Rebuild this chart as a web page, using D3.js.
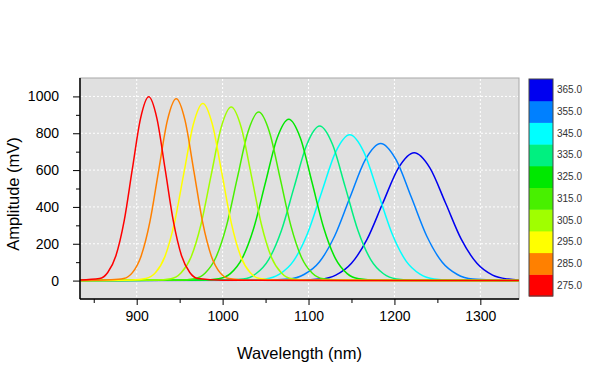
<!DOCTYPE html>
<html><head><meta charset="utf-8">
<script src="https://cdn.jsdelivr.net/npm/d3@7"></script>
<style>
body{margin:0;background:#fff;}
text{font-family:"Liberation Sans",Arial,sans-serif;}
</style></head>
<body><svg id="c" width="600" height="382"></svg>
<script>
// ---- data ----
const legendLabels = ["275.0","285.0","295.0","305.0","315.0","325.0","335.0","345.0","355.0","365.0"];
const seriesColors = ["#ff0000","#ff8000","#ffff00","#a0ff00","#48f000","#00e800","#00f080","#00ffff","#0080ff","#0000f0"];
const xTicks = [900,1000,1100,1200,1300];
const yTicks = [0,200,400,600,800,1000];

const s275 = [[834,3],[856.7,11],[866.3,44],[875.8,135],[885.4,324],[894.9,605],[904.5,881],[914,998],[923.5,881],[933.1,605],[942.6,324],[952.2,135],[961.8,44],[971.3,11],[1000,2],[1345,0]];
const s285 = [[834,0],[870,4],[884.8,11],[895,43],[905.2,134],[915.4,320],[925.6,599],[935.8,871],[946,987],[956.2,871],[966.4,599],[976.6,320],[986.8,134],[997,43],[1007.2,11],[1030,2],[1345,0]];
const s295 = [[834,0],[895,3],[910.7,11],[921.75,42],[932.8,130],[943.85,312],[954.9,583],[965.95,849],[977,962],[988.05,849],[999.1,583],[1010.15,312],[1021.2,130],[1032.25,42],[1043.3,11],[1065,2],[1345,0]];
const s305 = [[834,0],[922,3],[939.8,10],[951.5,41],[963.2,127],[974.9,306],[986.6,571],[998.3,831],[1010,942],[1021.7,831],[1033.4,571],[1045.1,306],[1056.8,127],[1068.5,41],[1080.2,10],[1100,2],[1345,0]];
const s315 = [[834,0],[950,3],[967,10],[979.5,40],[992,124],[1004.5,297],[1017,555],[1029.5,807],[1042,915],[1054.5,807],[1067,555],[1079.5,297],[1092,124],[1104.5,40],[1117,10],[1140,2],[1345,0]];
const s325 = [[834,0],[975,3],[995.4,10],[1009,38],[1022.6,119],[1036.2,284],[1049.8,531],[1063.4,773],[1077,876],[1090.6,773],[1104.2,531],[1117.8,284],[1131.4,119],[1145,38],[1158.6,10],[1180,2],[1345,0]];
const s335 = [[834,0],[1000,3],[1023.9,9],[1038.75,37],[1053.6,114],[1068.45,272],[1083.3,509],[1098.15,740],[1113,839],[1127.85,740],[1142.7,509],[1157.55,272],[1172.4,114],[1187.25,37],[1202.1,9],[1225,2],[1345,0]];
const s345 = [[834,0],[1025,3],[1049.9,9],[1066.25,35],[1082.6,107],[1098.95,257],[1115.3,480],[1131.65,699],[1148,792],[1164.35,699],[1180.7,480],[1197.05,257],[1213.4,107],[1229.75,35],[1246.1,9],[1270,2],[1345,0]];
const s355 = [[834,0],[1050,3],[1076.9,8],[1094.75,33],[1112.6,101],[1130.45,242],[1148.3,452],[1166.15,657],[1184,745],[1201.85,657],[1219.7,452],[1237.55,242],[1255.4,101],[1273.25,33],[1291.1,8],[1315,2],[1345,0]];
const s365 = [[834,0],[1090,3],[1113.5,8],[1131.75,30],[1150,94],[1168.25,225],[1186.5,421],[1204.75,612],[1223,694],[1241.25,612],[1259.5,421],[1277.75,225],[1296,94],[1314.25,30],[1332.5,8],[1345,3]];
const seriesData = [s275,s285,s295,s305,s315,s325,s335,s345,s355,s365];

// ---- layout ----
const svg = d3.select("#c");
const L=80, R=519, T=78, B=299;
const x = d3.scaleLinear().domain([834,1345]).range([L,R]);
const y = d3.scaleLinear().domain([-100,1100]).range([B,T]);

svg.append("rect").attr("x",L).attr("y",T).attr("width",R-L).attr("height",B-T)
  .attr("fill","#e0e0e0").attr("stroke","#a8a8a8").attr("stroke-width",1);

// grid
const g = svg.append("g");
g.selectAll("line.gy").data(yTicks).join("line")
  .attr("x1",L+1).attr("x2",R-1).attr("y1",d=>y(d)).attr("y2",d=>y(d))
  .attr("stroke","#ffffff").attr("stroke-width",1).attr("stroke-dasharray","2,2");
g.selectAll("line.gx").data(xTicks).join("line")
  .attr("y1",T+1).attr("y2",B-1).attr("x1",d=>x(d)).attr("x2",d=>x(d))
  .attr("stroke","#ffffff").attr("stroke-width",1).attr("stroke-dasharray","2,2");

// curves (last listed drawn first so red lies on top)
const line = d3.line().x(d=>x(d[0])).y(d=>y(d[1])).curve(d3.curveMonotoneX);
const clip = svg.append("clipPath").attr("id","pc").append("rect")
  .attr("x",L).attr("y",T).attr("width",R-L).attr("height",B-T);
const cg = svg.append("g").attr("clip-path","url(#pc)");
for (let i=seriesData.length-1;i>=0;i--){
  cg.append("path").attr("d",line(seriesData[i])).attr("fill","none")
    .attr("stroke",seriesColors[i]).attr("stroke-width",1.5).attr("stroke-linejoin","round");
}

// axes
const yAxis = d3.axisLeft(y).tickValues(yTicks).tickSize(7).tickPadding(14).tickFormat(d3.format("d"));
const yMinor = d3.axisLeft(y).tickValues([100,300,500,700,900]).tickSize(4).tickFormat("");
const xAxis = d3.axisBottom(x).tickValues(xTicks).tickSize(6).tickPadding(6).tickFormat(d3.format("d"));
const xMinor = d3.axisBottom(x).tickValues([850,950,1050,1150,1250]).tickSize(4).tickFormat("");

function styleAxis(sel){
  sel.select(".domain").remove();
  sel.selectAll("line").attr("stroke","#000");
  sel.selectAll("text").attr("font-size",14).attr("fill","#000")
    .attr("font-family","'Liberation Sans',Arial,sans-serif");
}
svg.append("g").attr("transform",`translate(${L},0)`).call(yAxis).call(styleAxis);
svg.append("g").attr("transform",`translate(${L},0)`).call(yMinor).call(styleAxis);
svg.append("g").attr("transform",`translate(0,${B})`).call(xAxis).call(styleAxis);
svg.append("g").attr("transform",`translate(0,${B})`).call(xMinor).call(styleAxis);
svg.append("line").attr("x1",L).attr("x2",L).attr("y1",T).attr("y2",B).attr("stroke","#000").attr("stroke-width",1.5);
svg.append("line").attr("x1",L).attr("x2",R).attr("y1",B).attr("y2",B).attr("stroke","#000").attr("stroke-width",1.5);

// titles
svg.append("text").attr("x",(L+R)/2).attr("y",359).attr("text-anchor","middle")
  .attr("font-size",16.5).attr("fill","#000").text("Wavelength (nm)");
svg.append("text").attr("transform",`translate(19,194) rotate(-90)`).attr("text-anchor","middle")
  .attr("font-size",16.5).attr("fill","#000").text("Amplitude (mV)");

// colour bar legend
const cbX=529, cbW=24, cbT=79, cbB=296;
const band = d3.scaleBand().domain(d3.range(legendLabels.length).reverse()).range([cbT,cbB]).paddingInner(0);
const lg = svg.append("g");
lg.selectAll("rect.b").data(d3.range(legendLabels.length)).join("rect")
  .attr("x",cbX).attr("y",i=>band(i)).attr("width",cbW).attr("height",band.bandwidth()+0.5)
  .attr("fill",i=>seriesColors[i]);
lg.append("rect").attr("x",cbX).attr("y",cbT).attr("width",cbW).attr("height",cbB-cbT)
  .attr("fill","none").attr("stroke","#444").attr("stroke-width",1);
lg.selectAll("text").data(d3.range(legendLabels.length)).join("text")
  .attr("x",cbX+cbW+4).attr("y",i=>band(i)+band.bandwidth()/2).attr("dy","0.35em")
  .attr("font-size",10).attr("fill","#333").text(i=>legendLabels[i]);
</script></body></html>
